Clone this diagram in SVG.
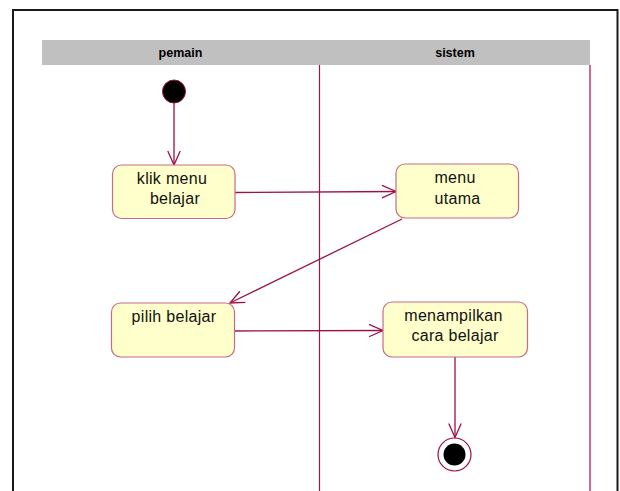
<svg xmlns="http://www.w3.org/2000/svg" width="620" height="491" viewBox="0 0 620 491">
  <style>
    .frame { fill: none; stroke: #1a1a1a; stroke-width: 2; }
    .header { fill: #c0c0c0; }
    .lane-title { font-family: "Liberation Sans", Arial, sans-serif; font-size: 12.5px; font-weight: bold; fill: #000; text-anchor: middle; }
    .lane-line { stroke: #a0144a; stroke-width: 1.2; }
    .lane-edge { stroke: #d06c94; stroke-width: 2; }
    .activity rect { fill: #ffffcc; stroke: #c86a86; stroke-width: 1.2; }
    .activity text { font-family: "Liberation Sans", Arial, sans-serif; font-size: 16px; letter-spacing: 0.3px; fill: #111; text-anchor: middle; }
    .flow { stroke: #9e1046; stroke-width: 1.3; fill: none; marker-end: url(#open-arrow); }
    .start { fill: #000; stroke: #9e1046; stroke-width: 1; }
    .end-ring { fill: #fff; stroke: #9e1046; stroke-width: 1.2; }
    .end-dot { fill: #000; }
  </style>
  <defs>
    <marker id="open-arrow" markerUnits="userSpaceOnUse" viewBox="0 0 16 14" refX="15" refY="7" markerWidth="16" markerHeight="14" orient="auto">
      <path d="M1,0.8 L15,7 L1,13.2" fill="none" stroke="#9e1046" stroke-width="1.3"/>
    </marker>
  </defs>

  <rect width="620" height="491" fill="#fff"/>

  <!-- outer frame, open at the bottom -->
  <path class="frame" d="M13,491 V10 H617.5 V491"/>

  <!-- swimlane header -->
  <g id="swimlanes">
    <rect class="header" x="42" y="40" width="548" height="25"/>
    <text class="lane-title" x="180.5" y="56.5">pemain</text>
    <text class="lane-title" x="455" y="56.5">sistem</text>
    <line class="lane-line" x1="319.5" y1="65" x2="319.5" y2="491"/>
    <line class="lane-edge" x1="590" y1="65" x2="590" y2="491"/>
  </g>

  <!-- connectors -->
  <g id="connectors">
    <line class="flow" x1="174" y1="103" x2="174" y2="165"/>
    <line class="flow" x1="235" y1="192.5" x2="396" y2="191.5"/>
    <line class="flow" x1="402" y1="219" x2="230" y2="303"/>
    <line class="flow" x1="234" y1="331" x2="383" y2="330.5"/>
    <line class="flow" x1="455" y1="357" x2="455" y2="437.5"/>
  </g>

  <g id="start">
    <circle class="start" cx="174" cy="91.5" r="11.5"/>
  </g>

  <g id="klik-menu-belajar" class="activity">
    <rect x="112.5" y="165" width="122.5" height="53.5" rx="9"/>
    <text x="172" y="183.5">klik menu</text>
    <text x="175" y="204">belajar</text>
  </g>

  <g id="menu-utama" class="activity">
    <rect x="396" y="164" width="122.5" height="54" rx="9"/>
    <text x="455" y="182.5">menu</text>
    <text x="457.5" y="203.5">utama</text>
  </g>

  <g id="pilih-belajar" class="activity">
    <rect x="111.5" y="303" width="123" height="54" rx="9"/>
    <text x="174" y="321.5">pilih belajar</text>
  </g>

  <g id="menampilkan-cara-belajar" class="activity">
    <rect x="383" y="302" width="144.5" height="55" rx="9"/>
    <text x="453.5" y="320.5">menampilkan</text>
    <text x="455" y="341">cara belajar</text>
  </g>

  <g id="end">
    <circle class="end-ring" cx="454.5" cy="454.5" r="16.5"/>
    <circle class="end-dot" cx="454.5" cy="454.5" r="11"/>
  </g>
</svg>
